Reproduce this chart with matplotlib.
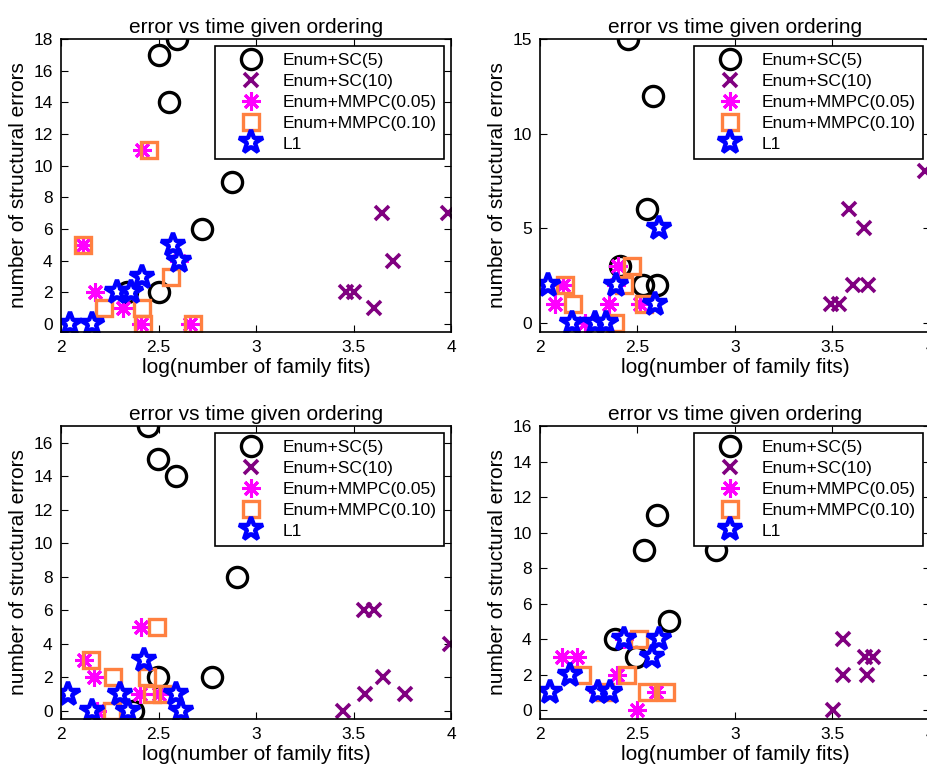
import matplotlib
matplotlib.use("Agg")
import matplotlib.pyplot as plt

# one sub-list per panel: top-left, top-right, bottom-left, bottom-right
SC5_X = [[2.593, 2.504, 2.556, 2.879, 2.723, 2.503, 2.337],
         [2.450, 2.582, 2.550, 2.409, 2.529, 2.598],
         [2.448, 2.499, 2.588, 2.904, 2.496, 2.773, 2.371],
         [2.601, 2.531, 2.905, 2.661, 2.387, 2.490]]
SC5_Y = [[18, 17, 14, 9, 6, 2, 2],
         [15, 12, 6, 3, 2, 2],
         [17, 15, 14, 8, 2, 2, 0],
         [11, 9, 9, 5, 4, 3]]

SC10_X = [[3.462, 3.500, 3.605, 3.648, 3.704, 3.983],
          [3.490, 3.532, 3.584, 3.661, 3.607, 3.682, 3.976],
          [3.448, 3.556, 3.605, 3.559, 3.650, 3.764, 3.995],
          [3.502, 3.555, 3.555, 3.665, 3.708, 3.679]]
SC10_Y = [[2, 2, 1, 7, 4, 7],
          [1, 1, 6, 5, 2, 2, 8],
          [0, 6, 6, 1, 2, 1, 4],
          [0, 4, 2, 3, 3, 2]]

MMPC05_X = [[2.114, 2.414, 2.174, 2.320, 2.410, 2.607, 2.662],
            [2.120, 2.077, 2.232, 2.352, 2.400, 2.390, 2.512],
            [2.410, 2.120, 2.171, 2.183, 2.405, 2.500],
            [2.430, 2.112, 2.189, 2.395, 2.498, 2.593, 2.300]]
MMPC05_Y = [[5, 11, 2, 1, 0, 4, 0],
            [2, 1, 0, 1, 3, 2, 1],
            [5, 3, 2, 0, 1, 1],
            [4, 3, 3, 2, 0, 1, 1]]

MMPC10_X = [[2.114, 2.451, 2.220, 2.417, 2.422, 2.564, 2.679],
            [2.129, 2.168, 2.387, 2.473, 2.433, 2.533],
            [2.490, 2.154, 2.268, 2.440, 2.263, 2.468, 2.520],
            [2.507, 2.215, 2.447, 2.335, 2.550, 2.644]]
MMPC10_Y = [[5, 11, 1, 1, 0, 3, 0],
            [2, 1, 0, 3, 2, 1],
            [5, 3, 2, 2, 0, 1, 1],
            [4, 2, 2, 1, 1, 1]]

L1_X = [[2.046, 2.157, 2.285, 2.359, 2.414, 2.576, 2.607],
        [2.043, 2.163, 2.284, 2.340, 2.390, 2.610, 2.588],
        [2.427, 2.034, 2.157, 2.303, 2.342, 2.588, 2.615],
        [2.430, 2.610, 2.576, 2.155, 2.052, 2.300, 2.361]]
L1_Y = [[0, 0, 2, 2, 3, 5, 4],
        [2, 0, 0, 0, 2, 5, 1],
        [3, 1, 0, 1, 0, 1, 0],
        [4, 4, 3, 2, 1, 1, 1]]

LABELS = ["Enum+SC(5)", "Enum+SC(10)", "Enum+MMPC(0.05)", "Enum+MMPC(0.10)", "L1"]
YTOP = [18, 15, 17, 16]
YTICKS = [list(range(0, 19, 2)), [0, 5, 10, 15], list(range(0, 17, 2)), list(range(0, 17, 2))]
XTICKS = [2, 2.5, 3, 3.5, 4]

plt.rcParams["font.family"] = ["Liberation Sans", "DejaVu Sans"]

fig = plt.figure(figsize=(9.28, 7.67), dpi=100)
W, H = 928, 767
# axes boxes in pixels: left, top, width, height (right column runs off the edge, as in the original)
boxes = [(61, 39, 390, 293), (540, 39, 390, 293), (61, 426, 390, 293), (540, 426, 390, 293)]

styles = [
    dict(marker="o", ms=14.5, mfc="none", mec="black", mew=2.4),
    dict(marker="x", ms=10, mec="#800080", mew=2.6),
    dict(marker=(8, 2, 0), ms=13, mec="#ff00ff", mew=2.2),
    dict(marker="s", ms=11.5, mfc="none", mec="#ff8040", mew=2.4),
    dict(marker="*", ms=17.5, mfc="white", mec="#0000ff", mew=3.2),
]

for i, (l, t, w, h) in enumerate(boxes):
    ax = fig.add_axes([l / W, 1 - (t + h) / H, w / W, h / H])
    series = [(SC5_X[i], SC5_Y[i]), (SC10_X[i], SC10_Y[i]), (MMPC05_X[i], MMPC05_Y[i]),
              (MMPC10_X[i], MMPC10_Y[i]), (L1_X[i], L1_Y[i])]
    for (xs, ys), st, lab in zip(series, styles, LABELS):
        ax.plot(xs, ys, linestyle="none", label=lab, **st)
    ax.set_xlim(2, 4)
    ax.set_ylim(-0.5, YTOP[i])
    ax.set_xticks(XTICKS)
    ax.set_xticklabels(["2", "2.5", "3", "3.5", "4"])
    ax.set_yticks(YTICKS[i])
    ax.tick_params(direction="in", top=True, right=True, length=5, width=0.8,
                   labelsize=12.5, pad=6)
    for sp in ax.spines.values():
        sp.set_linewidth(1.2)
    ax.set_title("error vs time given ordering", fontsize=15, pad=4)
    ax.set_xlabel("log(number of family fits)", fontsize=15, labelpad=2)
    ax.set_ylabel("number of structural errors", fontsize=15, labelpad=4)
    leg = ax.legend(loc="upper right", fontsize=12.5, fancybox=False, framealpha=1,
                    edgecolor="black", borderaxespad=0.4, labelspacing=0.33,
                    handlelength=3.4, handletextpad=0.15, borderpad=0.4)
    leg.get_frame().set_linewidth(1.2)

fig.savefig("out.png", dpi=100)
